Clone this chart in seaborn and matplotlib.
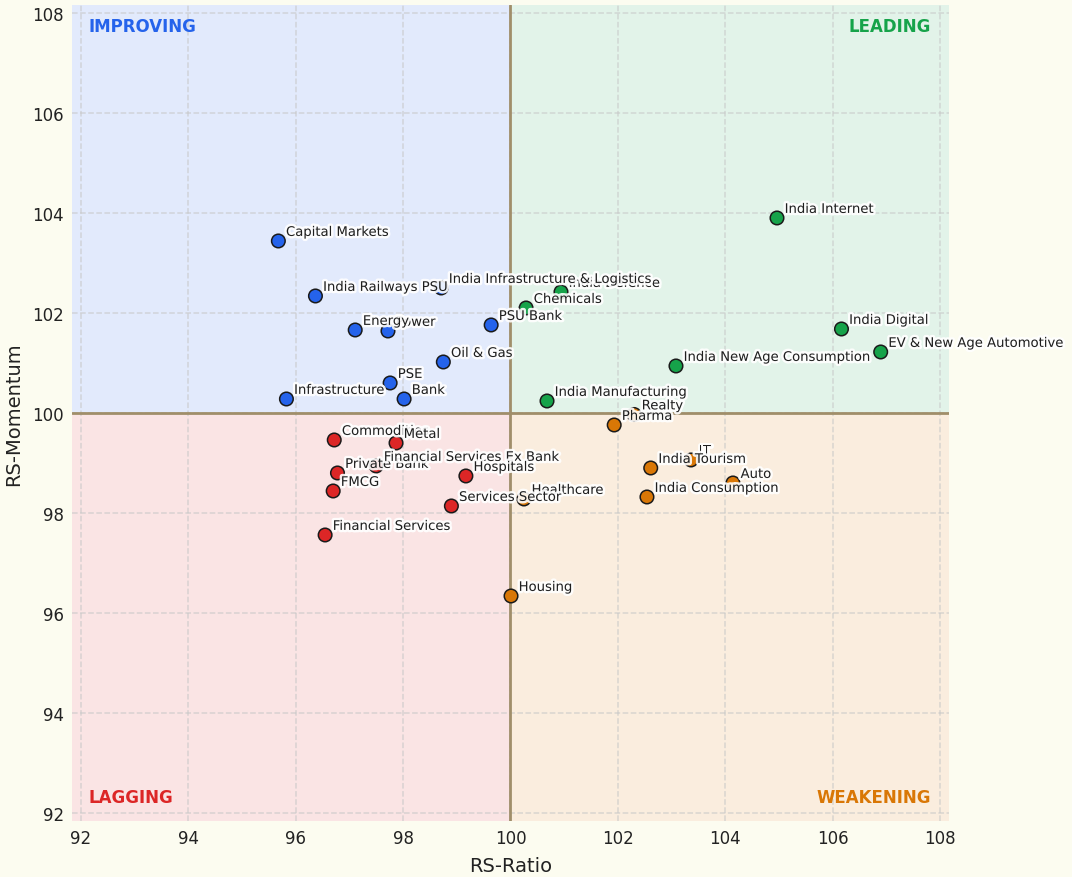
import matplotlib
matplotlib.use("Agg")
import matplotlib.pyplot as plt
import matplotlib.patheffects as pe
import seaborn as sns
import pandas as pd

# ---- data ----
sectors = [
    "Capital Markets", "India Railways PSU", "India Defence", "India Infrastructure & Logistics",
    "Power", "Energy", "PSU Bank", "Chemicals", "Oil & Gas", "PSE", "Infrastructure", "Bank",
    "India Internet", "India Digital", "EV & New Age Automotive", "India New Age Consumption",
    "India Manufacturing", "Realty", "Pharma", "IT", "India Tourism", "Auto", "India Consumption",
    "Healthcare", "Housing", "Commodities", "Metal", "Private Bank", "Financial Services Ex Bank",
    "FMCG", "Hospitals", "Services Sector", "Financial Services",
]
rs_ratio = [
    95.68, 96.37, 100.94, 98.71,
    97.72, 97.11, 99.64, 100.29, 98.75, 97.76, 95.83, 98.02,
    104.96, 106.16, 106.89, 103.08,
    100.68, 102.30, 101.93, 103.36, 102.61, 104.14, 102.54,
    100.25, 100.01, 96.72, 97.87, 96.78, 97.50,
    96.70, 99.17, 98.90, 96.55,
]
rs_momentum = [
    103.44, 102.34, 102.42, 102.50,
    101.64, 101.66, 101.76, 102.10, 101.02, 100.60, 100.28, 100.28,
    103.90, 101.68, 101.22, 100.94,
    100.24, 99.97, 99.76, 99.06, 98.90, 98.60, 98.32,
    98.28, 96.34, 99.46, 99.40, 98.80, 98.94,
    98.44, 98.74, 98.14, 97.56,
]
quadrant_names = ["IMPROVING", "LEADING", "LAGGING", "WEAKENING"]
quadrant_colors = ["#2563eb", "#16a34a", "#dc2626", "#d97706"]
x_ticks = [92, 94, 96, 98, 100, 102, 104, 106, 108]
y_ticks = [92, 94, 96, 98, 100, 102, 104, 106, 108]
center = 100


def quadrant(x, y):
    if x < center and y >= center:
        return "IMPROVING"
    if x >= center and y >= center:
        return "LEADING"
    if x < center:
        return "LAGGING"
    return "WEAKENING"


df = pd.DataFrame({"sector": sectors, "RS-Ratio": rs_ratio, "RS-Momentum": rs_momentum})
df["quadrant"] = [quadrant(x, y) for x, y in zip(rs_ratio, rs_momentum)]
palette = dict(zip(quadrant_names, quadrant_colors))

sns.set_theme(style="white")
plt.rcParams["font.family"] = ["DejaVu Sans"]

bg = "#fcfcf0"
fig = plt.figure(figsize=(10.72, 8.78), dpi=100, facecolor=bg)
ax = fig.add_axes([0.0672, 0.0638, 0.818, 0.9294])
ax.set_facecolor("white")

lo, hi = 91.84, 108.16
ax.set_xlim(lo, hi)
ax.set_ylim(lo, hi)

# quadrant shading
ax.fill_between([lo, center], center, hi, color=palette["IMPROVING"], alpha=0.13, lw=0, zorder=0)
ax.fill_between([center, hi], center, hi, color=palette["LEADING"], alpha=0.12, lw=0, zorder=0)
ax.fill_between([lo, center], lo, center, color=palette["LAGGING"], alpha=0.12, lw=0, zorder=0)
ax.fill_between([center, hi], lo, center, color=palette["WEAKENING"], alpha=0.13, lw=0, zorder=0)

ax.grid(True, linestyle="--", color="#c8c8c8", alpha=0.65, linewidth=1.1, zorder=1)
ax.set_axisbelow(True)
ax.axvline(center, color="#a08e6a", linewidth=2, zorder=2)
ax.axhline(center, color="#a08e6a", linewidth=2, zorder=2)

sns.scatterplot(data=df, x="RS-Ratio", y="RS-Momentum", hue="quadrant", palette=palette,
                s=95, edgecolor="#1a1a1a", linewidth=1.1, legend=False, ax=ax, zorder=3)

for name, x, y in zip(sectors, rs_ratio, rs_momentum):
    ax.annotate(name, (x, y), xytext=(5.5, 1.5), textcoords="offset points",
                ha="left", va="bottom", fontsize=9.5, color="#1f1f1f", zorder=4,
                path_effects=[pe.withStroke(linewidth=3.5, foreground="white", alpha=0.9)])

# corner labels
ax.text(0.019, 0.985, "IMPROVING", transform=ax.transAxes, ha="left", va="top",
        fontsize=12, fontweight="bold", color=palette["IMPROVING"])
ax.text(0.9795, 0.985, "LEADING", transform=ax.transAxes, ha="right", va="top",
        fontsize=12, fontweight="bold", color=palette["LEADING"])
ax.text(0.019, 0.018, "LAGGING", transform=ax.transAxes, ha="left", va="bottom",
        fontsize=12, fontweight="bold", color=palette["LAGGING"])
ax.text(0.9795, 0.018, "WEAKENING", transform=ax.transAxes, ha="right", va="bottom",
        fontsize=12, fontweight="bold", color=palette["WEAKENING"])

ax.set_xticks(x_ticks)
ax.set_yticks(y_ticks)
ax.tick_params(labelsize=12, colors="#222222", length=0, pad=6)
ax.set_xlabel("RS-Ratio", fontsize=14, color="#222222", labelpad=6)
ax.set_ylabel("RS-Momentum", fontsize=14, color="#222222", labelpad=6)
for s in ax.spines.values():
    s.set_visible(False)

fig.savefig("out.png", dpi=100, facecolor=bg)
